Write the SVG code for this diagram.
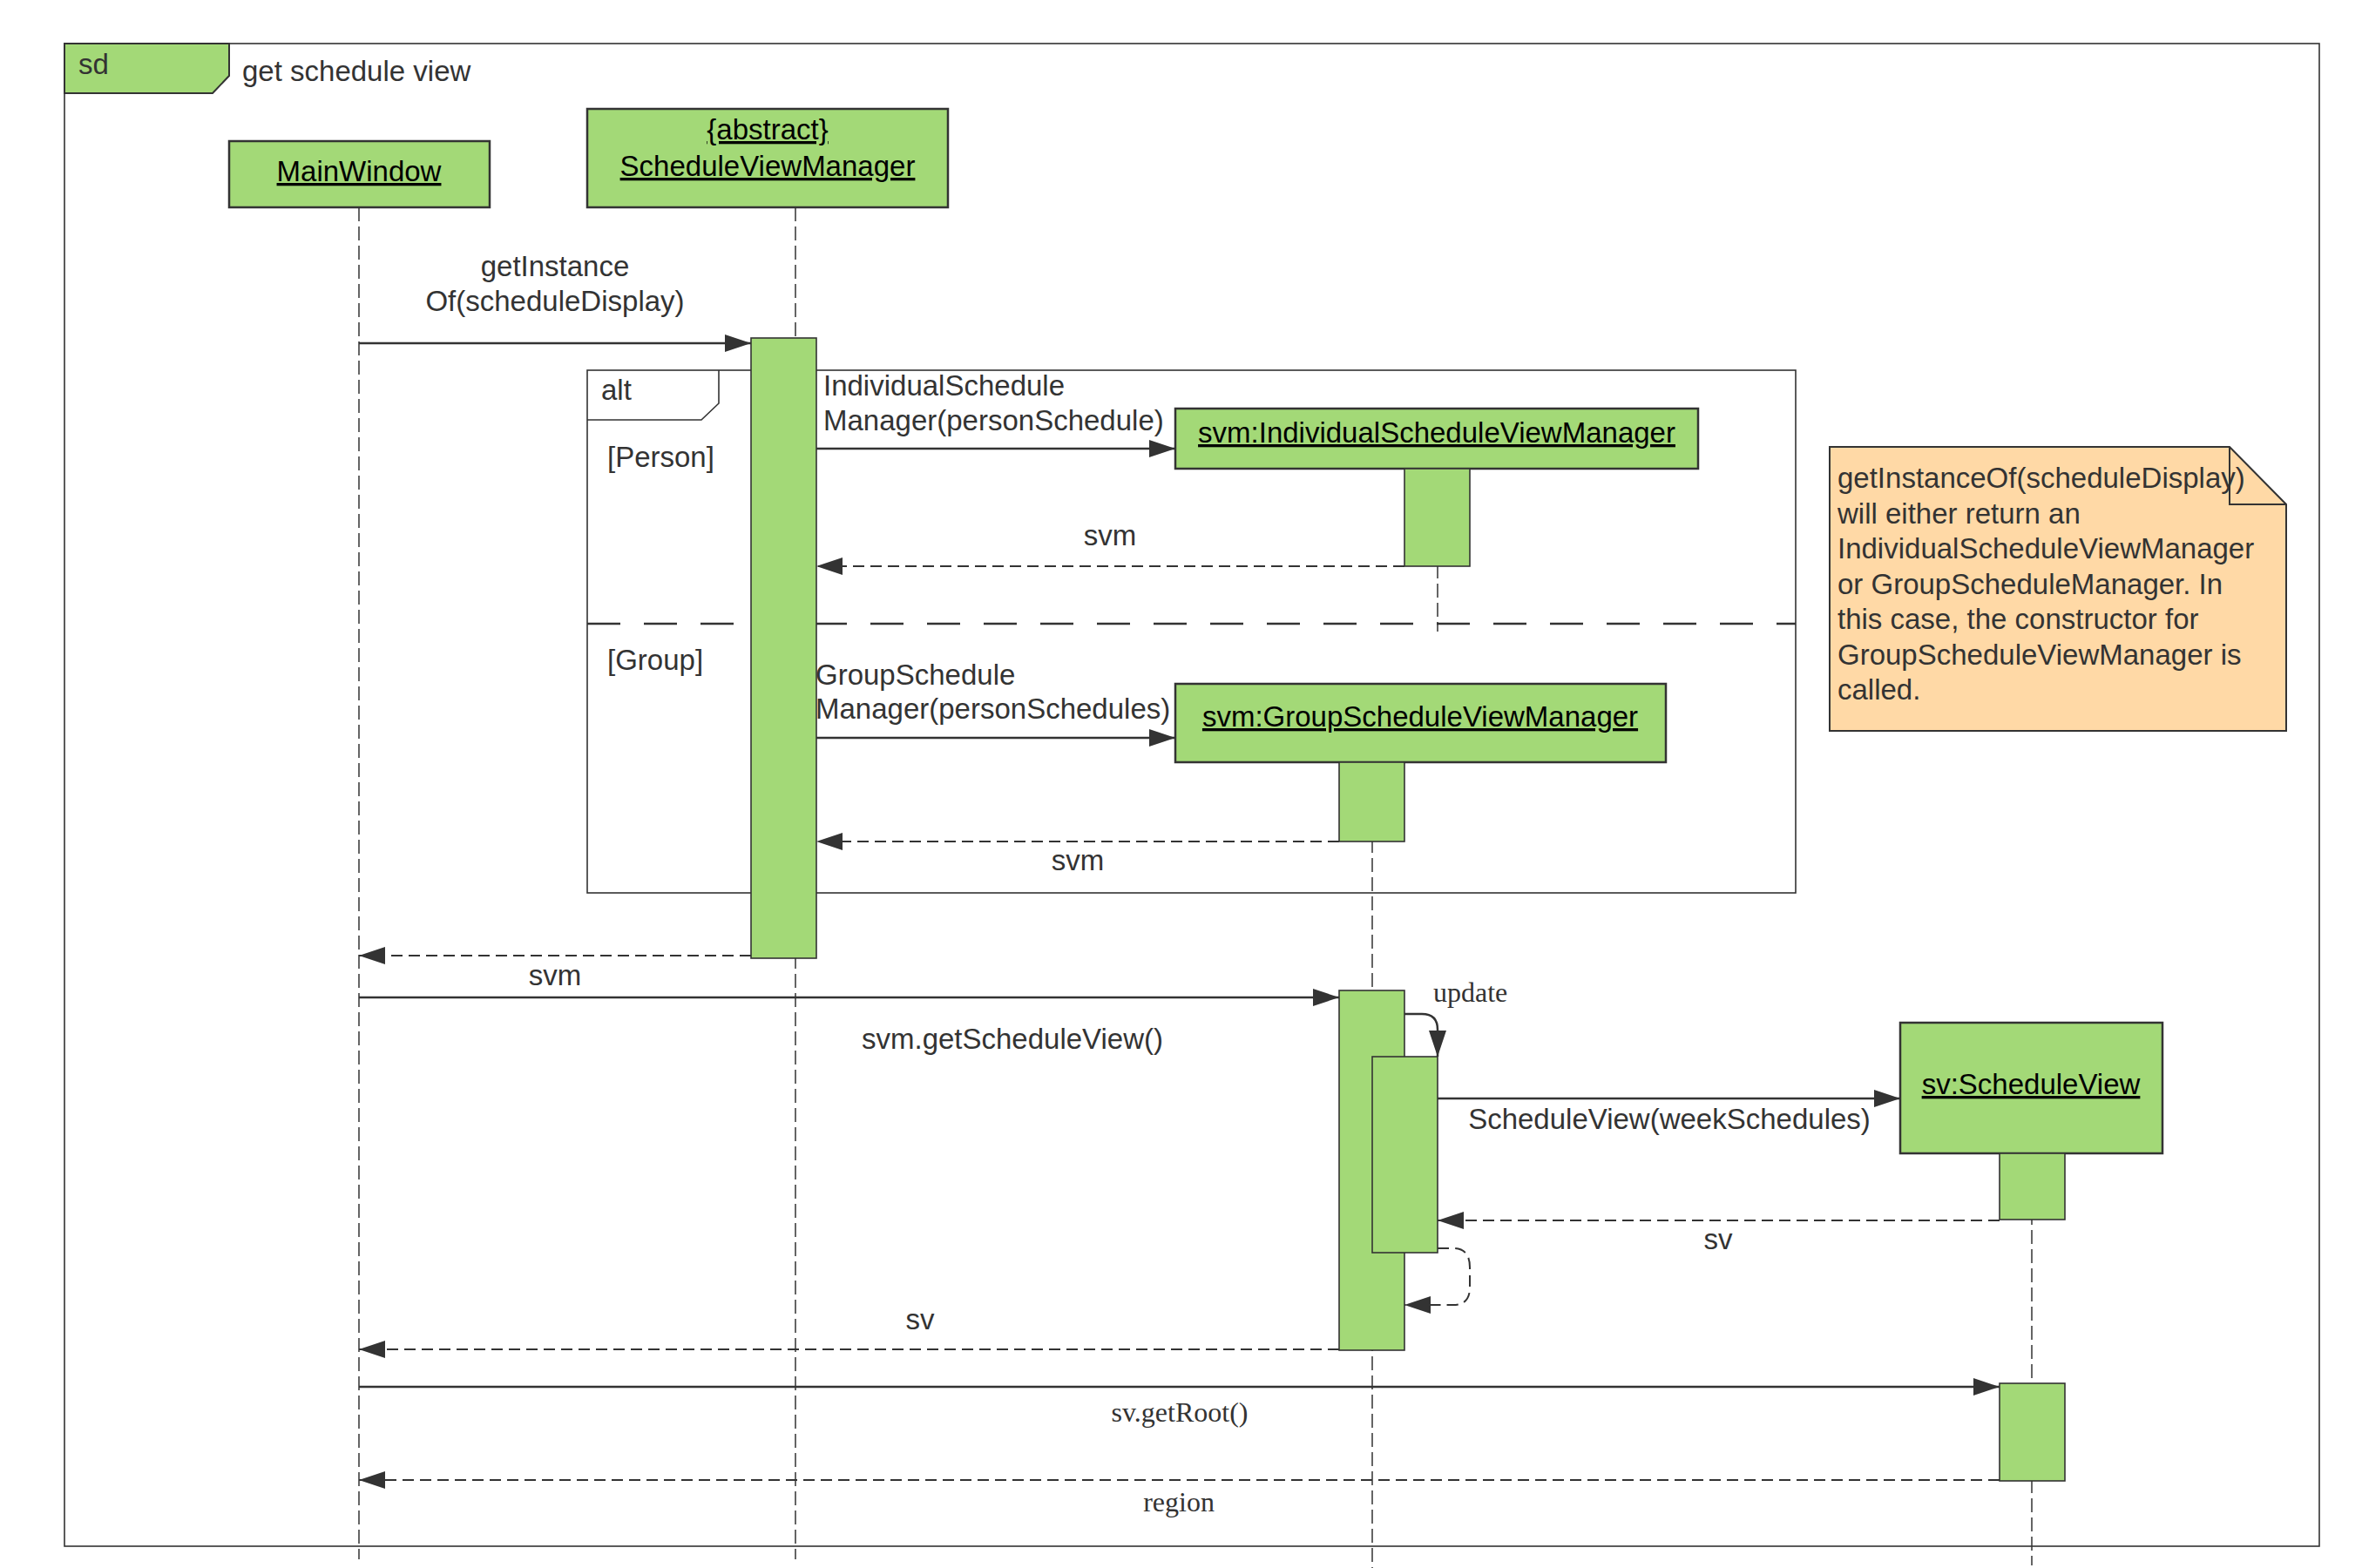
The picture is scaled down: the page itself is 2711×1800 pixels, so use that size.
<svg xmlns="http://www.w3.org/2000/svg" width="2711" height="1800" viewBox="0 0 2711 1800">
<style>
.t{font-family:"Liberation Sans",Arial,sans-serif;font-size:33px;fill:#333}
.c{text-anchor:middle}
.s{font-family:"Liberation Serif","Times New Roman",serif;font-size:32px;fill:#333}
.u{text-decoration:underline;fill:#000}
.head{fill:#a3d977;stroke:#333;stroke-width:2.5}
.act{fill:#a3d977;stroke:#333;stroke-width:1.6}
.life{stroke:#333;stroke-width:1.5;stroke-dasharray:16 6;fill:none}
.msg{stroke:#333;stroke-width:2.5;fill:none;marker-end:url(#ah)}
.ret{stroke:#333;stroke-width:2;stroke-dasharray:13 7;fill:none;marker-end:url(#ah)}
.frm{fill:none;stroke:#333;stroke-width:1.6}
</style>
<defs>
<marker id="ah" viewBox="0 0 30 20" refX="30" refY="10" markerWidth="30" markerHeight="20" markerUnits="userSpaceOnUse" orient="auto"><path d="M0,0 L30,10 L0,20 Z" fill="#333"/></marker>
</defs>
<rect width="2711" height="1800" fill="#fff"/>
<g id="frame">
<rect class="frm" x="74" y="50" width="2588" height="1725"/>
<path d="M74,50 L263,50 L263,87 L244,107 L74,107 Z" fill="#a3d977" stroke="#333" stroke-width="2"/>
<text class="t" x="90" y="85">sd</text>
<text class="t" x="278" y="93">get schedule view</text>
</g>
<g id="alt">
<rect class="frm" x="674" y="425" width="1387" height="600"/>
<path class="frm" d="M674,482 L805,482 L825,463 L825,425"/>
<line x1="674" y1="716" x2="2061" y2="716" stroke="#333" stroke-width="2.5" stroke-dasharray="38 27"/>
<text class="t" x="690" y="459">alt</text>
<text class="t" x="697" y="536">[Person]</text>
<text class="t" x="697" y="769">[Group]</text>
</g>
<g id="lifelines">
<line class="life" x1="412" y1="238" x2="412" y2="1790"/>
<line class="life" x1="913" y1="238" x2="913" y2="1790"/>
<line class="life" x1="1650" y1="538" x2="1650" y2="725"/>
<line class="life" x1="1575" y1="875" x2="1575" y2="1800"/>
<line class="life" x1="2332" y1="1324" x2="2332" y2="1797"/>
</g>
<g id="MainWindow">
<rect class="head" x="263" y="162" width="299" height="76"/>
<text class="t c u" x="412" y="208">MainWindow</text>
</g>
<g id="ScheduleViewManager">
<rect class="head" x="674" y="125" width="414" height="113"/>
<text class="t c u" x="881" y="160">{abstract}</text>
<text class="t c u" x="881" y="202">ScheduleViewManager</text>
</g>
<g id="IndividualScheduleViewManager">
<rect class="head" x="1349" y="469" width="600" height="69"/>
<text class="t c u" x="1649" y="508">svm:IndividualScheduleViewManager</text>
</g>
<g id="GroupScheduleViewManager">
<rect class="head" x="1349" y="785" width="563" height="90"/>
<text class="t c u" x="1630" y="834">svm:GroupScheduleViewManager</text>
</g>
<g id="ScheduleView">
<rect class="head" x="2181" y="1174" width="301" height="150"/>
<text class="t c u" x="2331" y="1256">sv:ScheduleView</text>
</g>
<g id="activations">
<rect class="act" x="862" y="388" width="75" height="712"/>
<rect class="act" x="1612" y="538" width="75" height="112"/>
<rect class="act" x="1537" y="875" width="75" height="91"/>
<rect class="act" x="1537" y="1137" width="75" height="413"/>
<rect class="act" x="1575" y="1213" width="75" height="225" stroke-width="2.2"/>
<rect class="act" x="2295" y="1324" width="75" height="76"/>
<rect class="act" x="2295" y="1588" width="75" height="112"/>
</g>
<g id="note">
<path d="M2100,513 L2559,513 L2624,579 L2624,839 L2100,839 Z" fill="#ffd9a6" stroke="#333" stroke-width="2"/>
<text class="t" x="2109" y="560">getInstanceOf(scheduleDisplay)</text>
<text class="t" x="2109" y="600.5">will either return an</text>
<text class="t" x="2109" y="641">IndividualScheduleViewManager</text>
<text class="t" x="2109" y="681.5">or GroupScheduleManager. In</text>
<text class="t" x="2109" y="722">this case, the constructor for</text>
<text class="t" x="2109" y="762.5">GroupScheduleViewManager is</text>
<text class="t" x="2109" y="803">called.</text>
<path d="M2559,513 L2559,579 L2624,579" fill="none" stroke="#333" stroke-width="2"/>
</g>
<g id="connectors">
<line class="msg" x1="412" y1="394" x2="862" y2="394"/>
<line class="msg" x1="937" y1="515" x2="1349" y2="515"/>
<line class="ret" x1="1612" y1="650" x2="937" y2="650"/>
<line class="msg" x1="937" y1="847" x2="1349" y2="847"/>
<line class="ret" x1="1537" y1="966" x2="937" y2="966"/>
<line class="ret" x1="862" y1="1097" x2="412" y2="1097"/>
<line class="msg" x1="412" y1="1145" x2="1537" y2="1145"/>
<path class="msg" stroke-width="2" d="M1612,1164 L1632,1164 Q1650,1164 1650,1182 L1650,1213"/>
<line class="msg" x1="1650" y1="1261" x2="2181" y2="1261"/>
<line class="ret" x1="2295" y1="1401" x2="1650" y2="1401"/>
<path class="ret" d="M1650,1433 L1668,1433 Q1687,1433 1687,1455 L1687,1478 Q1687,1498 1668,1498 L1612,1498"/>
<line class="ret" x1="1537" y1="1549" x2="412" y2="1549"/>
<line class="msg" x1="412" y1="1592" x2="2295" y2="1592"/>
<line class="ret" x1="2295" y1="1699" x2="412" y2="1699"/>
</g>
<g id="labels">
<text class="t c" x="637" y="317">getInstance</text>
<text class="t c" x="637" y="357">Of(scheduleDisplay)</text>
<text class="t" x="945" y="454">IndividualSchedule</text>
<text class="t" x="945" y="494">Manager(personSchedule)</text>
<text class="t c" x="1274" y="626">svm</text>
<text class="t" x="936" y="786">GroupSchedule</text>
<text class="t" x="936" y="825">Manager(personSchedules)</text>
<text class="t c" x="1237" y="999">svm</text>
<text class="t c" x="637" y="1131">svm</text>
<text class="t c" x="1162" y="1204">svm.getScheduleView()</text>
<text class="s" x="1645" y="1150">update</text>
<text class="t c" x="1916" y="1296">ScheduleView(weekSchedules)</text>
<text class="t c" x="1972" y="1434">sv</text>
<text class="t c" x="1056" y="1526">sv</text>
<text class="s c" x="1354" y="1632">sv.getRoot()</text>
<text class="s c" x="1353" y="1735">region</text>
</g>
</svg>
